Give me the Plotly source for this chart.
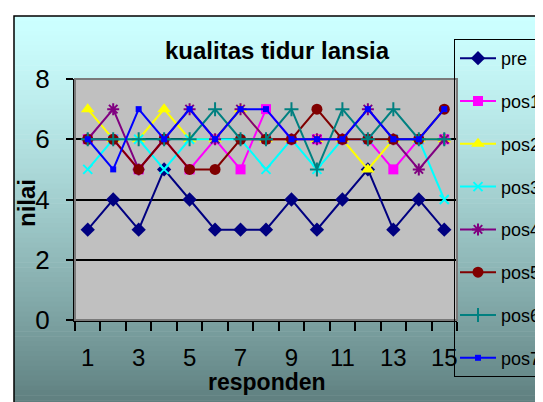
import plotly.graph_objects as go

# ---------------- data ----------------
responden = [str(i) for i in range(1, 16)]
tick_labels = ["1", "", "3", "", "5", "", "7", "", "9", "", "11", "", "13", "", "15"]
y_ticks = [0, 2, 4, 6, 8]

pre  = [3, 4, 3, 5, 4, 3, 3, 3, 4, 3, 4, 5, 3, 4, 3]
pos1 = [6, 6, 5, 6, 5, 6, 5, 7, 6, 6, 6, 6, 5, 6, 6]
pos2 = [7, 6, 6, 7, 6, 6, 7, 6, 6, 6, 6, 5, 6, 6, 6]
pos3 = [5, 6, 6, 5, 6, 6, 6, 5, 6, 5, 6, 6, 6, 6, 4]
pos4 = [6, 7, 5, 6, 7, 6, 7, 6, 6, 6, 6, 7, 6, 5, 6]
pos5 = [6, 6, 5, 6, 5, 5, 6, 6, 6, 7, 6, 6, 6, 6, 7]
pos6 = [6, 6, 6, 6, 6, 7, 6, 6, 7, 5, 7, 6, 7, 6, 6]
pos7 = [6, 5, 7, 6, 7, 6, 7, 7, 6, 6, 6, 7, 6, 6, 7]

series_names = ["pre", "pos1", "pos2", "pos3", "pos4", "pos5", "pos6", "pos7"]
series_values = [pre, pos1, pos2, pos3, pos4, pos5, pos6, pos7]

title_text = "kualitas tidur lansia"
x_title = "responden"
y_title = "nilai"

# ---------------- styling ----------------
W, H = 543, 402
L, R, T, B = 67, 94, 71, 90
PW, PH = W - L - R, H - T - B

def px(x):
    return (x - L) / PW

def py(y):
    return (H - B - y) / PH

FONT = "Liberation Sans, Arial, sans-serif"

styles = [
    dict(color="#000080", symbol="diamond", size=11, lw=0),
    dict(color="#FF00FF", symbol="square", size=10, lw=0),
    dict(color="#FFFF00", symbol="triangle-up", size=12, lw=0),
    dict(color="#00FFFF", symbol="x-thin", size=9, lw=2),
    dict(color="#800080", symbol="asterisk", size=10, lw=2),
    dict(color="#800000", symbol="circle", size=11, lw=0),
    dict(color="#008080", symbol="cross-thin", size=10, lw=2),
    dict(color="#0000FF", symbol="square", size=6, lw=0),
]

fig = go.Figure()
for name, vals, st in zip(series_names, series_values, styles):
    fig.add_trace(go.Scatter(
        x=responden, y=vals, name=name, mode="lines+markers",
        legendgroup=name,
        line=dict(color=st["color"], width=2),
        marker=dict(symbol=st["symbol"], size=st["size"], color=st["color"],
                    line=dict(color=st["color"], width=st["lw"])),
    ))

# gradient background stripes
shapes = []
top_c = (204, 255, 255)
bot_c = (92, 124, 124)
N = 80
y_top, y_bot = 8, 402
h = (y_bot - y_top) / N
for k in range(N):
    f = (k + 0.5) / N
    f2 = f ** 1.3
    c = tuple(int(round(top_c[j] + (bot_c[j] - top_c[j]) * f2)) for j in range(3))
    y0 = y_top + k * h
    y1 = y0 + h + 0.6
    shapes.append(dict(type="rect", xref="paper", yref="paper",
                       x0=px(6), x1=px(W + 5), y0=py(y0), y1=py(min(y1, H + 5)),
                       fillcolor="rgb(%d,%d,%d)" % c, line=dict(width=0), layer="below"))
# plot area
shapes.append(dict(type="rect", xref="paper", yref="paper", x0=0, x1=1, y0=0, y1=1,
                   fillcolor="#C0C0C0", line=dict(width=0), layer="below"))
# outer frame
shapes.append(dict(type="rect", xref="paper", yref="paper",
                   x0=px(6), x1=px(W + 10), y0=py(8), y1=py(H + 10),
                   fillcolor="rgba(0,0,0,0)", line=dict(color="black", width=1.5), layer="below"))
# plot area border
shapes.append(dict(type="rect", xref="paper", yref="paper", x0=0, x1=1, y0=0, y1=1,
                   fillcolor="rgba(0,0,0,0)", line=dict(color="#7a7a7a", width=2), layer="above"))

fig.update_layout(
    width=W, height=H,
    margin=dict(l=L, r=R, t=T, b=B, autoexpand=False),
    paper_bgcolor="white",
    plot_bgcolor="#C0C0C0",
    font=dict(family=FONT, color="black", size=20),
    shapes=shapes,
    showlegend=True,
    legend=dict(x=px(446), y=py(31), xanchor="left", yanchor="top",
                xref="paper", yref="paper", maxheight=1000,
                bgcolor="rgba(0,0,0,0)", bordercolor="black", borderwidth=1,
                font=dict(family=FONT, size=18, color="black"),
                tracegroupgap=16.4, itemwidth=36),
    title=dict(text="<b>" + title_text + "</b>", x=269 / W, y=1 - 43 / H,
               xanchor="center", yanchor="middle", xref="container", yref="container",
               font=dict(family=FONT, size=24, color="black")),
    xaxis=dict(type="category", categoryorder="array", categoryarray=responden,
               range=[-0.5, 14.5], tickmode="array", tickvals=responden, ticktext=tick_labels,
               tickson="boundaries", ticks="outside", ticklen=9, tickwidth=2, tickcolor="black",
               tickangle=0,
               showline=True, linecolor="black", linewidth=2, showgrid=False,
               ticklabelstandoff=15, tickfont=dict(family=FONT, size=24, color="black"),
               fixedrange=True),
    yaxis=dict(range=[0, 8], tickmode="array", tickvals=y_ticks,
               ticks="outside", ticklen=7, tickwidth=2, tickcolor="black",
               showline=True, linecolor="black", linewidth=2,
               showgrid=True, gridcolor="black", gridwidth=2, zeroline=False,
               ticklabelstandoff=11, tickfont=dict(family=FONT, size=26, color="black"),
               fixedrange=True),
    annotations=[
        dict(text="<b>" + y_title + "</b>", xref="paper", yref="paper",
             x=px(18), y=py(195), textangle=-90, showarrow=False,
             xanchor="center", yanchor="middle",
             font=dict(family=FONT, size=24, color="black")),
        dict(text="<b>" + x_title + "</b>", xref="paper", yref="paper",
             x=px(259), y=py(374), showarrow=False,
             xanchor="center", yanchor="middle",
             font=dict(family=FONT, size=23, color="black")),
    ],
)

fig.write_html("out.html")
